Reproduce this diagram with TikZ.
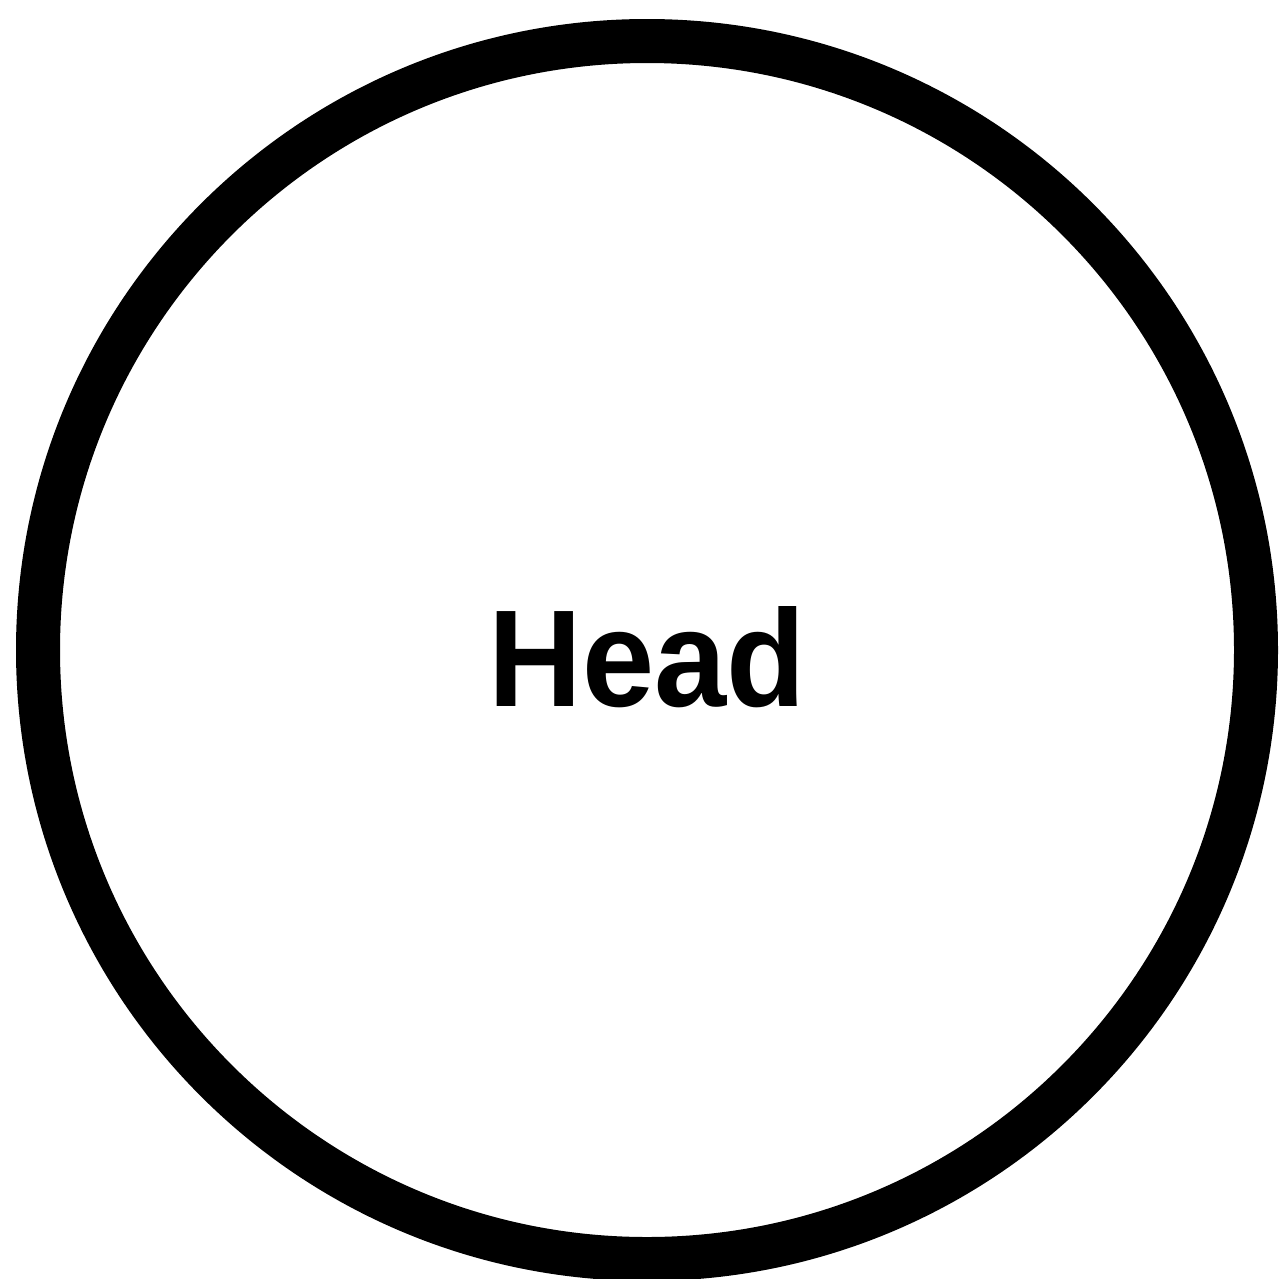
\documentclass[tikz,border=0pt]{standalone}
\usepackage{fontspec}
\setmainfont{Liberation Sans}
\begin{document}
\begin{tikzpicture}[x=1pt,y=-1pt,
  ring/.style={circle,draw=black,line width=44pt,minimum size=1218pt,inner sep=0pt,fill=white},
  label/.style={font=\fontsize{138}{138}\selectfont\bfseries}]
\useasboundingbox[fill=white] (0,0) rectangle (1280,1278);
\node[ring] (head) at (647,650) {};
\node[label] (headtext) at (647,657) {\scalebox{0.94}[1]{Head}};
\end{tikzpicture}
\end{document}
